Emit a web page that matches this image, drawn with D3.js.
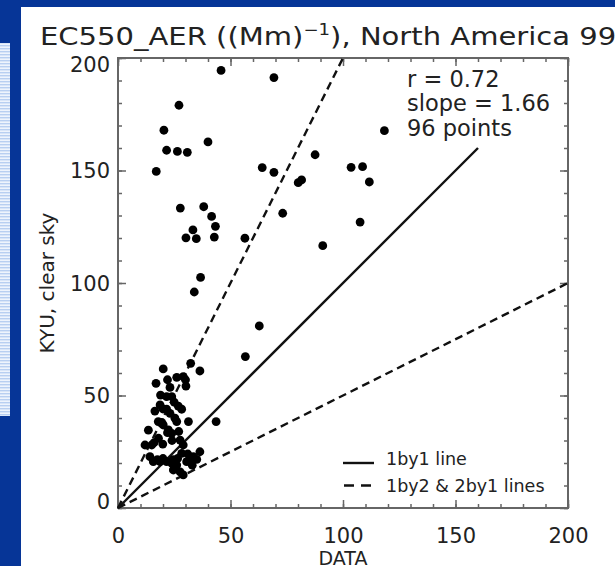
<!DOCTYPE html>
<html>
<head>
<meta charset="utf-8">
<script src="https://cdn.jsdelivr.net/npm/d3@7"></script>
<style>
  html, body { margin: 0; padding: 0; background: #063597; }
  svg { display: block; }
  text { font-family: "DejaVu Sans", sans-serif; fill: #222; }
</style>
</head>
<body>
<svg id="chart" width="615" height="566"></svg>
<script>
// Observed aerosol extinction (DATA) vs. KYU model, clear sky
const dataValues = [
  45.8, 69.3, 27.1, 20.4, 118.4, 40.0, 21.6, 26.4, 30.8, 87.6,
  17.0, 64.1, 69.3, 103.6, 108.7, 111.7, 80.1, 81.6, 73.2, 27.7,
  38.1, 41.6, 43.3, 107.6, 33.3, 30.2, 34.8, 42.8, 56.4, 91.0,
  36.7, 33.9, 62.8, 56.6, 43.6,
  32.3, 36.4, 20.1, 26.1, 29.0, 30.2, 16.9, 23.1, 18.9, 21.6,
  23.9, 16.4, 21.6, 26.8, 28.3, 18.7, 23.1, 25.3, 31.3, 17.9,
  20.1, 13.5, 22.4, 23.9, 12.0, 15.0, 19.9, 27.6, 29.0, 26.1,
  36.4, 33.5, 35.0, 14.2, 15.7, 18.7, 21.6, 23.9, 26.1, 24.6,
  27.6, 29.0, 28.3, 30.5, 32.0,
  19.5, 22.0, 17.5, 20.0, 24.5, 26.5, 31.0, 16.0, 24.0, 20.0,
  25.0, 30.0, 22.0, 18.0, 27.0, 33.0
];
const kyuValues = [
  194.5, 191.3, 179.0, 167.9, 167.7, 162.7, 159.0, 158.5, 158.1, 157.0,
  149.6, 151.3, 149.2, 151.4, 151.7, 144.9, 144.6, 145.8, 131.0, 133.3,
  133.9, 129.6, 125.2, 127.1, 123.6, 120.1, 119.7, 120.4, 119.9, 116.6,
  102.5, 96.0, 80.9, 67.3, 38.4,
  64.3, 60.9, 61.8, 58.1, 58.4, 54.2, 55.4, 53.6, 50.2, 49.5,
  49.5, 43.1, 43.9, 45.3, 43.9, 45.8, 42.1, 39.9, 38.4, 38.4,
  36.9, 34.6, 34.7, 33.2, 28.0, 28.0, 28.4, 30.2, 28.0, 38.4,
  25.0, 22.8, 21.6, 22.8, 20.6, 20.6, 20.6, 19.9, 19.1, 16.9,
  16.1, 14.7, 24.3, 20.6, 21.3,
  38.0, 33.5, 21.5, 22.0, 21.5, 22.0, 24.0, 29.0, 30.0, 44.0,
  47.0, 57.0, 57.0, 31.0, 34.0, 19.0
];

const axisTicks = [0, 50, 100, 150, 200];
const minorTicks = d3.range(0, 201, 10);
const statLines = ["r = 0.72", "slope = 1.66", "96 points"];
const legendLabels = ["1by1 line", "1by2 & 2by1 lines"];
// reference lines: [slope, end of line on the DATA axis]
const refLines = [
  { slope: 1, xEnd: 160, dashed: false },
  { slope: 2, xEnd: 100, dashed: true },
  { slope: 0.5, xEnd: 200, dashed: true }
];

const svg = d3.select("#chart");

// slide background: blue field, striped side panel, white plot sheet
const defs = svg.append("defs");
const stripes = defs.append("pattern")
  .attr("id", "stripes").attr("width", 4).attr("height", 3)
  .attr("patternUnits", "userSpaceOnUse");
stripes.append("rect").attr("width", 4).attr("height", 3).attr("fill", "#eef4fd");
stripes.append("rect").attr("width", 4).attr("height", 1.4).attr("fill", "#b8cff1");

svg.append("rect").attr("width", 615).attr("height", 566).attr("fill", "#063597");
svg.append("rect").attr("x", 0).attr("y", 43).attr("width", 10).attr("height", 373)
  .attr("fill", "url(#stripes)");
svg.append("rect").attr("x", 21).attr("y", 7).attr("width", 594).attr("height", 559)
  .attr("fill", "#ffffff");

const x = d3.scaleLinear().domain([0, 200]).range([118, 568]);
const y = d3.scaleLinear().domain([0, 200]).range([508, 58]);

const frameColor = "#666";

// frame
svg.append("rect")
  .attr("x", x(0)).attr("y", y(200))
  .attr("width", x(200) - x(0)).attr("height", y(0) - y(200))
  .attr("fill", "none").attr("stroke", frameColor).attr("stroke-width", 2);

function styleAxis(g) {
  g.select(".domain").remove();
  g.selectAll(".tick line").attr("stroke", frameColor).attr("stroke-width", 1.5);
  g.selectAll(".tick text").attr("fill", "#222").attr("font-size", 21)
    .attr("font-family", "DejaVu Sans, sans-serif");
}

// minor ticks, all four sides, pointing inward
const minorSpec = [
  [d3.axisBottom(x), y(0)], [d3.axisTop(x), y(200)]
];
minorSpec.forEach(([ax, pos]) => {
  svg.append("g").attr("transform", `translate(0,${pos})`)
    .call(ax.tickValues(minorTicks).tickSize(-4).tickFormat(""))
    .call(styleAxis);
});
[[d3.axisLeft(y), x(0)], [d3.axisRight(y), x(200)]].forEach(([ax, pos]) => {
  svg.append("g").attr("transform", `translate(${pos},0)`)
    .call(ax.tickValues(minorTicks).tickSize(-4).tickFormat(""))
    .call(styleAxis);
});

// major ticks with labels
svg.append("g").attr("transform", `translate(0,${y(0)})`)
  .call(d3.axisBottom(x).tickValues(axisTicks).tickSize(-8).tickPadding(20).tickFormat(d3.format("d")))
  .call(styleAxis);
svg.append("g").attr("transform", `translate(0,${y(200)})`)
  .call(d3.axisTop(x).tickValues(axisTicks).tickSize(-8).tickFormat(""))
  .call(styleAxis);
const yAxisG = svg.append("g").attr("transform", `translate(${x(0)},0)`)
  .call(d3.axisLeft(y).tickValues(axisTicks).tickSize(-8).tickPadding(8).tickFormat(d3.format("d")))
  .call(styleAxis);
// keep the end labels inside the axis span
yAxisG.selectAll(".tick text")
  .attr("dy", d => d === 200 ? "0.62em" : d === 0 ? "0.02em" : "0.34em");
svg.append("g").attr("transform", `translate(${x(200)},0)`)
  .call(d3.axisRight(y).tickValues(axisTicks).tickSize(-8).tickFormat(""))
  .call(styleAxis);

// reference lines
const line = d3.line().x(d => x(d[0])).y(d => y(d[1]));
svg.append("g").selectAll("path")
  .data(refLines)
  .join("path")
  .attr("d", d => line([[0, 0], [d.xEnd, d.xEnd * d.slope]]))
  .attr("fill", "none")
  .attr("stroke", "#111")
  .attr("stroke-width", 2.4)
  .attr("stroke-dasharray", d => d.dashed ? "8,5" : null);

// scatter points
svg.append("g").selectAll("circle")
  .data(dataValues.map((v, i) => [v, kyuValues[i]]))
  .join("circle")
  .attr("cx", d => x(d[0]))
  .attr("cy", d => y(d[1]))
  .attr("r", 4.4)
  .attr("fill", "#000");

// statistics block
svg.append("g").selectAll("text")
  .data(statLines)
  .join("text")
  .attr("x", 407)
  .attr("y", (d, i) => 86.5 + i * 24.6)
  .attr("font-size", 22.5)
  .text(d => d);

// legend
const legend = svg.append("g");
legend.append("line")
  .attr("x1", 343).attr("x2", 374).attr("y1", 463).attr("y2", 463)
  .attr("stroke", "#111").attr("stroke-width", 2.4);
legend.append("line")
  .attr("x1", 344).attr("x2", 374).attr("y1", 485.5).attr("y2", 485.5)
  .attr("stroke", "#111").attr("stroke-width", 2.4).attr("stroke-dasharray", "10,7");
legendLabels.forEach((t, i) => {
  legend.append("text")
    .attr("x", 386).attr("y", 465 + i * 27)
    .attr("font-size", 17.5)
    .text(t);
});

// axis titles
svg.append("text")
  .attr("x", x(100)).attr("y", 565)
  .attr("text-anchor", "middle").attr("font-size", 19)
  .text("DATA");
svg.append("text")
  .attr("transform", `translate(54,${y(100)}) rotate(-90)`)
  .attr("text-anchor", "middle").attr("font-size", 20)
  .text("KYU, clear sky");

// chart title (wide face, runs off the sheet on the right)
const title = svg.append("text")
  .attr("transform", "translate(40,45) scale(1.21,1)")
  .attr("font-size", 24);
title.append("tspan").text("EC550_AER ((Mm)");
title.append("tspan").attr("font-size", 15).attr("dy", -10).text("−1");
title.append("tspan").attr("dy", 10).text("), North America 999");
</script>
</body>
</html>
